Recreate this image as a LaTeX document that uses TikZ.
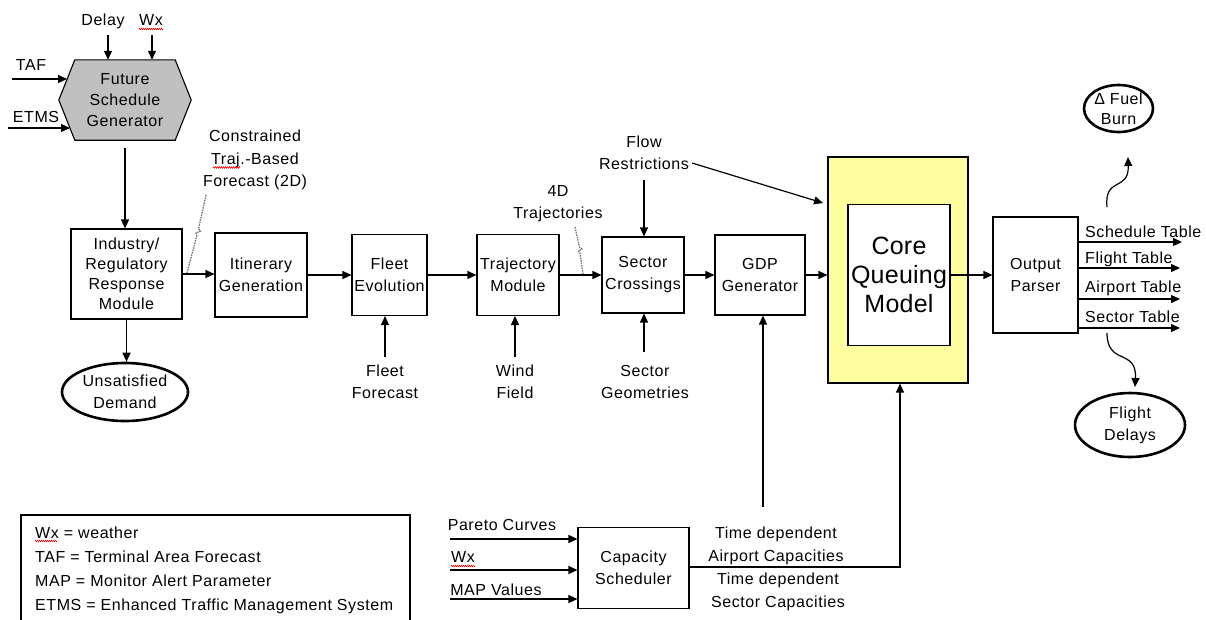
\documentclass[tikz,border=0pt]{standalone}
\usepackage{fontspec}
\setmainfont{Liberation Sans}[LetterSpace=3.5]
\usetikzlibrary{arrows.meta,calc,shapes.geometric,decorations.pathmorphing,backgrounds}
\definecolor{paleyellow}{RGB}{255,255,160}
\definecolor{hexgray}{RGB}{192,192,192}
\tikzset{
  txt/.style={font=\fontsize{16}{22}\selectfont, align=center, inner sep=0pt},
  lbl/.style={txt, anchor=base},
  box/.style={txt, draw, line width=1.1pt, fill=white},
  oval/.style={draw, ellipse, line width=2.6pt, inner sep=0pt},
  arr/.style={line width=1.2pt, -{Triangle[length=9pt,width=8pt]}},
  ln/.style={line width=1.1pt},
  hint/.style={draw=black!55, line width=1.3pt, dash pattern=on 1.5pt off 1pt},
  spell/.style={draw=red, line width=0.5pt, decorate, decoration={zigzag, amplitude=0.8pt, segment length=2pt}},
}
\begin{document}
\begin{tikzpicture}[x=1pt,y=-1pt]
\useasboundingbox (0,0) rectangle (1206,619);

% ---- Future schedule generator (hexagon)
\node[txt, font=\fontsize{16}{21}\selectfont, minimum width=100pt, minimum height=80pt] (fsg) at (125,100) {Future\\Schedule\\Generator};
\begin{scope}[on background layer]
\draw[ln, fill=hexgray] (fsg.north west) -- (fsg.north east) -- ($(fsg.east)+(16,0)$)
  -- (fsg.south east) -- (fsg.south west) -- ($(fsg.west)+(-16,0)$) -- cycle;
\end{scope}

\node[lbl] (delay) at (103,25) {Delay};
\node[lbl] (wx1) at (151,25) {Wx};
\draw[spell] ([yshift=-4pt]wx1.base west) -- ([yshift=-4pt]wx1.base east);
\coordinate (delayS) at (108,35);
\coordinate (wxS) at (152,35);
\draw[arr] (delayS) -- (delayS |- fsg.north);
\draw[arr] (wxS) -- (wxS |- fsg.north);

\node[lbl] (taf) at (31,70) {TAF};
\node[lbl] (etms) at (36,122) {ETMS};
\coordinate (tafS) at (12,79);  \coordinate (tafE) at (67,79);
\coordinate (etmsS) at (8,128); \coordinate (etmsE) at (70,128);
\draw[arr] (tafS) -- (tafE);
\draw[arr] (etmsS) -- (etmsE);

% ---- main chain
\node[box, font=\fontsize{16}{20}\selectfont, minimum width=111pt, minimum height=90pt] (ind) at (126.5,274) {Industry/\\Regulatory\\Response\\Module};
\node[oval, minimum width=126pt, minimum height=58pt] (ud) at (125,392) {};
\node[txt] (udt) at (ud.center) {Unsatisfied\\Demand};
\node[box, minimum width=92pt, minimum height=84pt] (itin) at (261,275) {Itinerary\\Generation};
\node[box, minimum width=75pt, minimum height=81pt] (fleet) at (389.5,275) {Fleet\\Evolution};
\node[box, minimum width=82pt, minimum height=81pt] (traj) at (518,275) {Trajectory\\Module};
\node[box, minimum width=82pt, minimum height=76pt] (sc) at (643,275) {Sector\\Crossings};
\node[box, minimum width=90pt, minimum height=80pt] (gdp) at (760,275) {GDP\\Generator};
\node[draw, line width=1.1pt, fill=paleyellow, minimum width=140pt, minimum height=226pt, inner sep=0pt] (yel) at (898,270) {};
\node[box, font=\fontsize{25}{29}\selectfont\addfontfeature{LetterSpace=1}, minimum width=102pt, minimum height=141pt] (cqm) at (899,275) {Core\\Queuing\\Model};
\node[box, minimum width=85pt, minimum height=116pt] (op) at (1035.5,275) {Output\\Parser};

\draw[arr] ([yshift=-8pt]fsg.south) -- (fsg.south |- ind.north);
\draw[arr] (ind.south) -- (ind.south |- ud.north);
\draw[arr] (ind.east) -- (ind.east -| itin.west);
\draw[arr] (itin.east) -- (fleet.west);
\draw[arr] (fleet.east) -- (traj.west);
\draw[arr] (traj.east) -- (sc.west);
\draw[arr] (sc.east) -- (gdp.west);
\draw[arr] (gdp.east) -- (gdp.east -| yel.west);
\draw[arr] (cqm.east) -- (op.west);

% ---- hint labels
\node[txt, font=\fontsize{16}{22.5}\selectfont] (ctf) at (255,160) {Constrained\\Traj.-Based\\Forecast (2D)};
\draw[spell] (213,167.5) -- (240,167.5);
\coordinate (h1a) at (206,195); \coordinate (h1b) at (187,273);
\draw[hint] (h1a) -- (198.5,229) -- (200.5,231) -- (196,233) -- (197,235) -- (h1b);

\node[txt] (fourd) at (558,204) {4D\\Trajectories};
\coordinate (h2a) at (575,227); \coordinate (h2b) at (583,274);
\draw[hint] (h2a) -- (579.5,247) -- (582,249) -- (578.5,251) -- (580,253) -- (h2b);

\node[txt] (flow) at (644,153) {Flow\\Restrictions};
\draw[arr] ([yshift=-10pt]flow.south) -- (flow.south |- sc.north);
\coordinate (flowS) at (692,163); \coordinate (flowE) at (823,203);
\draw[arr] (flowS) -- (flowE);

% ---- inputs from below
\node[txt] (ff) at (385,382) {Fleet\\Forecast};
\node[txt] (wf) at (515,382) {Wind\\Field};
\node[txt] (sg) at (645,382) {Sector\\Geometries};
\coordinate (ffS) at (385,357);
\coordinate (wfS) at (515,357);
\coordinate (sgS) at (644,352);
\draw[arr] (ffS) -- (ffS |- fleet.south);
\draw[arr] (wfS) -- (wfS |- traj.south);
\draw[arr] (sgS) -- (sgS |- sc.south);

% ---- outputs
\coordinate (t1) at (1182,242);
\coordinate (t2) at (1180,268);
\coordinate (t3) at (1180,299);
\coordinate (t4) at (1180,328);
\draw[arr] (t1 -| op.east) -- (t1);
\draw[arr] (t2 -| op.east) -- (t2);
\draw[arr] (t3 -| op.east) -- (t3);
\draw[arr] (t4 -| op.east) -- (t4);
\node[txt, anchor=base west] (tab1) at (1085,237) {Schedule Table};
\node[txt, anchor=base west] (tab2) at (1085,263) {Flight Table};
\node[txt, anchor=base west] (tab3) at (1085,292) {Airport Table};
\node[txt, anchor=base west] (tab4) at (1085,322) {Sector Table};

\node[oval, minimum width=69pt, minimum height=47pt] (fb) at (1118.5,108.5) {};
\node[txt, font=\fontsize{16}{20}\selectfont] (fbt) at (fb.center) {Δ Fuel\\Burn};
\node[oval, minimum width=110pt, minimum height=64pt] (fd) at (1130,425) {};
\node[txt] (fdt) at (fd.center) {Flight\\Delays};
\coordinate (fbS) at (1107,207); \coordinate (fbE) at (1128,157);
\draw[arr] (fbS) .. controls (1104,176) and (1129,192) .. (fbE);
\coordinate (fdS) at (1107,333); \coordinate (fdE) at (1135,387);
\draw[arr] (fdS) .. controls (1107,366) and (1137,348) .. (fdE);

% ---- capacity scheduler
\node[box, minimum width=111pt, minimum height=81pt] (cs) at (633.5,568) {Capacity\\Scheduler};
\node[lbl] (pc) at (502,530) {Pareto Curves};
\node[lbl] (wx2) at (463,562) {Wx};
\draw[spell] ([yshift=-4pt]wx2.base west) -- ([yshift=-4pt]wx2.base east);
\node[lbl] (mapv) at (496,595) {MAP Values};
\coordinate (in1) at (450,539);
\coordinate (in2) at (450,570);
\coordinate (in3) at (450,599);
\draw[arr] (in1) -- (in1 -| cs.west);
\draw[arr] (in2) -- (in2 -| cs.west);
\draw[arr] (in3) -- (in3 -| cs.west);

\node[txt, font=\fontsize{16}{23}\selectfont] (tda) at (776,546) {Time dependent\\Airport Capacities};
\node[txt, font=\fontsize{16}{23}\selectfont] (tds) at (778,592) {Time dependent\\Sector Capacities};
\coordinate (cap) at (900,567);
\draw[arr] (cap -| cs.east) -- (cap) -- (cap |- yel.south);
\coordinate (gdpS) at (763,507);
\draw[arr] (gdpS) -- (gdpS |- gdp.south);

% ---- legend
\draw[ln] (21,625) -- (21,515) -- (410,515) -- (410,625);
\node[txt, anchor=base west] (leg1) at (35,538) {Wx = weather};
\draw[spell] (35,541) -- (57,541);
\node[txt, anchor=base west] (leg2) at (35,562) {TAF = Terminal Area Forecast};
\node[txt, anchor=base west] (leg3) at (35,586) {MAP = Monitor Alert Parameter};
\node[txt, anchor=base west] (leg4) at (35,610) {ETMS = Enhanced Traffic Management System};
\end{tikzpicture}
\end{document}
